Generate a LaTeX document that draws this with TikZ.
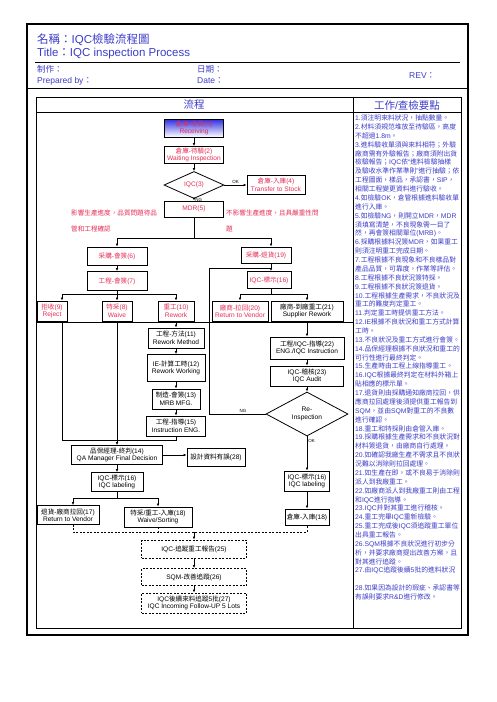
\documentclass[tikz,border=0pt]{standalone}
\usepackage{fontspec}
\setmainfont{Liberation Sans}
\newfontfamily\latinfont{Liberation Sans}
\newfontfamily\cjkfont{Noto Sans CJK TC}
\usetikzlibrary{arrows.meta,shapes.geometric}

% switch to the CJK font for Han characters and full-width punctuation
\newXeTeXintercharclass\CJKclass
\newcount\cjkcnt
\newcommand\setcjkrange[2]{\cjkcnt=#1\relax
  \loop\XeTeXcharclass\cjkcnt=\CJKclass\relax
  \ifnum\cjkcnt<#2\relax\advance\cjkcnt by 1\relax\repeat}
\setcjkrange{"3000}{"303F}
\setcjkrange{"4E00}{"9FFF}
\setcjkrange{"FF00}{"FFEF}
\XeTeXinterchartoks 0 \CJKclass = {\cjkfont}
\XeTeXinterchartoks 4095 \CJKclass = {\cjkfont}
\XeTeXinterchartoks \CJKclass 0 = {\latinfont}
\XeTeXinterchartoks \CJKclass 4095 = {\latinfont}
\XeTeXinterchartokenstate=1

\definecolor{hdrblue}{RGB}{60,60,200}
\definecolor{nodered}{RGB}{228,45,85}
\definecolor{rcvblue}{RGB}{45,45,225}

\begin{document}
\begin{tikzpicture}[x=1pt,y=-1pt,
  box/.style={draw, line width=0.8pt, inner sep=0.5pt, align=center, font=\fontsize{6.6}{7.6}\selectfont},
  redbox/.style={box, text=nodered},
  dbox/.style={box, dash pattern=on 2pt off 1.5pt},
  dia/.style={box, shape=diamond, inner sep=0pt},
  arr/.style={line width=0.8pt, -{Latex[length=3pt,width=2.6pt]}},
  ln/.style={line width=0.8pt},
  dln/.style={ln, dash pattern=on 2pt off 1.5pt},
  lab/.style={font=\fontsize{4.5}{5}\selectfont, inner sep=1pt},
  note/.style={font=\fontsize{6.8}{8.87}\selectfont, text=hdrblue, inner sep=0pt},
  hdr/.style={text=hdrblue, inner sep=0pt},
  remark/.style={text=nodered, align=left, inner sep=0pt, font=\fontsize{6.6}{16}\selectfont}]
  \useasboundingbox (0,0) rectangle (496,702);
  % frames
  \draw[line width=2pt] (27,24) rectangle (468,635);
  \draw[ln] (35,62) -- (460,62);
  \draw[line width=1pt] (27,88) -- (468,88);
  \draw[ln] (36,97) rectangle (461,628);
  \draw[ln] (36,112) -- (461,112);
  \draw[ln] (353,97) -- (353,628);
  \draw[ln] (36,322) -- (353,322);
  % header
  \node[hdr, anchor=west, font=\fontsize{11.5}{12}\selectfont] (ttlcn) at (37,40) {名稱：IQC檢驗流程圖};
  \node[hdr, anchor=west, font=\fontsize{11.5}{12}\selectfont] (ttlen) at (37,54) {Title：IQC inspection Process};
  \node[hdr, anchor=west, font=\fontsize{8.5}{9}\selectfont] (prepcn) at (37,69) {制作：};
  \node[hdr, anchor=west, font=\fontsize{8.5}{9}\selectfont] (prepen) at (37,81) {Prepared by：};
  \node[hdr, anchor=west, font=\fontsize{8.5}{9}\selectfont] (datecn) at (197,69) {日期：};
  \node[hdr, anchor=west, font=\fontsize{8.5}{9}\selectfont] (dateen) at (197,81) {Date：};
  \node[hdr, anchor=west, font=\fontsize{8.5}{9}\selectfont] (rev) at (409,76) {REV：};
  \node[hdr, font=\fontsize{10.5}{11}\selectfont] (hflow) at (194,105) {流程};
  \node[hdr, font=\fontsize{10.5}{11}\selectfont] (hnote) at (407,105) {工作/查檢要點};

  % flow
  \node[redbox, minimum width=59pt, minimum height=18pt, top color=rcvblue, bottom color=white] (rcv) at (194,128) {倉庫-收貨(1)\\Receiving};
  \node[redbox, minimum width=59pt, minimum height=17pt] (wait) at (194,155) {倉庫-待驗(2)\\Waiting Inspection};
  \node[dia, text=nodered, minimum width=60pt, minimum height=27pt] (iqc) at (194,185) {IQC(3)};
  \node[redbox, minimum width=58pt, minimum height=19pt] (stock) at (276,185) {倉庫-入庫(4)\\Transfer to Stock};
  \node[redbox, minimum width=59pt, minimum height=16pt] (mdr) at (194,209) {MDR(5)};
  \node[remark, anchor=west] (rmkl) at (71,221) {影響生產進度，品質問題待品\\管和工程確認};
  \node[remark, anchor=west] (rmkr) at (226,221) {不影響生產進度，且具嚴重性問\\題};
  \node[redbox, minimum width=60pt, minimum height=18pt] (pur6) at (117,256) {采購-會簽(6)};
  \node[redbox, minimum width=50pt, minimum height=16pt] (pur19) at (266,255) {采購-退貨(19)};
  \node[redbox, minimum width=60pt, minimum height=19pt] (eng7) at (117,281) {工程-會簽(7)};
  \node[redbox, minimum width=44pt, minimum height=17pt] (lab16a) at (269,280) {IQC-標示(16)};
  \node[redbox, minimum width=30pt, minimum height=20pt] (rej9) at (52,311) {拒收(9)\\Reject};
  \node[redbox, minimum width=30pt, minimum height=20pt] (wav8) at (117,311) {特采(8)\\Waive};
  \node[redbox, minimum width=36pt, minimum height=20pt] (rwk10) at (176,311) {重工(10)\\Rework};
  \node[redbox, minimum width=56pt, minimum height=20pt] (rtv20) at (240,311) {廠商-拉回(20)\\Return to Vendor};
  \node[box, minimum width=72pt, minimum height=20pt] (sup21) at (307,311) {廠商-到廠重工(21)\\Supplier Rework};
  \node[box, minimum width=56pt, minimum height=20pt] (mth11) at (176,338) {工程-方法(11)\\Rework Method};
  \node[box, minimum width=58pt, minimum height=27pt] (tim12) at (176,368) {IE-計算工時(12)\\Rework Working};
  \node[box, minimum width=48pt, minimum height=20pt] (mrb13) at (176,399) {制造-會簽(13)\\MRB MFG.};
  \node[box, minimum width=59pt, minimum height=20pt] (ins15) at (176,426) {工程-指導(15)\\Instruction ENG.};
  \node[box, minimum width=91pt, minimum height=19pt] (qa14) at (117,455) {品保經理-終判(14)\\QA Manager Final Decision};
  \node[box, minimum width=58pt, minimum height=18pt] (dat28) at (216,457) {設計資料有誤(28)};
  \node[box, minimum width=52pt, minimum height=19pt] (lab16b) at (117,482) {IQC-標示(16)\\IQC labeling};
  \node[box, minimum width=62pt, minimum height=19pt] (rtv17) at (68,515) {退貨-廠商拉回(17)\\Return to Vendor};
  \node[box, minimum width=68pt, minimum height=20pt] (wvs18) at (158,517) {特采/重工-入庫(18)\\Waive/Sorting};
  \node[box, minimum width=74pt, minimum height=22pt] (ins22) at (307,348) {工程/IQC-指導(22)\\ENG./IQC Instruction};
  \node[box, minimum width=73pt, minimum height=20pt] (aud23) at (307,376) {IQC-稽核(23)\\IQC Audit};
  \node[dia, minimum width=82pt, minimum height=44pt] (reins) at (307,414) {Re-\\Inspection};
  \node[box, minimum width=45pt, minimum height=20pt] (lab16c) at (307,481) {IQC-標示(16)\\IQC labeling};
  \node[box, minimum width=44pt, minimum height=16pt] (stk18) at (307,517) {倉庫-入庫(18)};
  \node[dbox, minimum width=105pt, minimum height=18pt] (trk25) at (194,549) {IQC-追蹤重工報告(25)};
  \node[dbox, minimum width=105pt, minimum height=17pt] (sqm26) at (194,577) {SQM-改善追蹤(26)};
  \node[dbox, minimum width=105pt, minimum height=20pt] (fol27) at (194,603) {IQC後續來料追蹤5批(27)\\IQC Incoming Follow-UP 5 Lots};

  % junctions
  \coordinate (j5) at (194,238);
  \coordinate (j6) at (117,238);
  \coordinate (j19) at (271,238);
  \coordinate (j7) at (117,294);
  \coordinate (j9) at (62,294);
  \coordinate (j10) at (176,294);
  \coordinate (j16) at (271,294);
  \coordinate (j20) at (240,294);
  \coordinate (j21) at (307,294);
  \coordinate (jl) at (209,268);
  \coordinate (jm) at (271,268);
  \coordinate (jq) at (62,440);
  \coordinate (jr) at (176,440);
  \coordinate (js) at (117,498);
  \coordinate (j17) at (73,498);
  \coordinate (j18) at (158,498);
  \coordinate (jd) at (73,532);
  \coordinate (jt) at (194,532);
  \coordinate (je) at (307,532);

  % connectors
  \draw[arr] (rcv) -- (wait);
  \draw[arr] (wait) -- (iqc);
  \draw[arr] (iqc) -- node[lab, above] (lok1) {OK} (stock);
  \draw[arr] (iqc) -- node[lab, right] (lng1) {NG} (mdr);
  \draw[ln] (mdr) -- (j5);
  \draw[ln] (j6) -- (j19);
  \draw[arr] (j6) -- (pur6);
  \draw[arr] (j19) -- (j19 |- pur19.north);
  \draw[arr] (pur6) -- (eng7);
  \draw[arr] (j19 |- pur19.south) -- (j19 |- lab16a.north);
  \draw[ln] (eng7) -- (j7);
  \draw[ln] (j9) -- (j10);
  \draw[arr] (j9) -- (j9 |- rej9.north);
  \draw[arr] (j7) -- (wav8);
  \draw[arr] (j10) -- (rwk10);
  \draw[ln] (j19 |- lab16a.south) -- (j16);
  \draw[ln] (j20) -- (j21);
  \draw[arr] (j20) -- (rtv20);
  \draw[arr] (j21) -- (sup21);
  \draw[arr] (rwk10) -- (mth11);
  \draw[arr] (mth11) -- (tim12);
  \draw[arr] (tim12) -- (mrb13);
  \draw[arr] (mrb13) -- (ins15);
  \draw[ln] (j9 |- rej9.south) -- (jq) -- (jr) -- (ins15);
  \draw[arr] (wav8) -- (qa14);
  \draw[arr] (qa14) -- (qa14 -| dat28.west);
  \draw[arr] (qa14) -- (lab16b);
  \draw[ln] (lab16b) -- (js);
  \draw[ln] (j17) -- (j18);
  \draw[arr] (j17) -- (j17 |- rtv17.north);
  \draw[arr] (j18) -- (wvs18);
  \draw[arr] (sup21) -- (ins22);
  \draw[arr] (ins22) -- (aud23);
  \draw[arr] (aud23) -- (reins);
  \draw[ln] (reins) -- node[lab, above, pos=0.4] (lng2) {NG} (jl |- reins.west) -- (jl) -- (jm);
  \draw[arr] (reins) -- node[lab, right, pos=0.12] (lok2) {OK} (lab16c);
  \draw[arr] (lab16c) -- (stk18);
  \draw[dln] (j17 |- rtv17.south) -- (jd) -- (je) -- (stk18);
  \draw[dln] (wvs18) -- (wvs18 |- jd);
  \draw[arr] (jt) -- (trk25);
  \draw[arr] (trk25) -- (sqm26);
  \draw[arr] (sqm26) -- (fol27);

  % notes column
  \foreach \txt [count=\i from 0] in {
    1.須注明來料狀況，抽點數量。,
    2.材料須規范堆放至待驗區，高度, 不超過1.8m。,
    3.進料驗收單須與來料相符；外驗, 廠商需有外驗報告；廠商須附出貨, 檢驗報告；IQC依“進料檢驗抽樣,
    及驗收水準作業準則”進行抽驗；依, 工程圖面，樣品，承認書，SIP，, 相關工程變更資料進行驗收。,
    4.如檢驗OK，倉管根據進料驗收單, 進行入庫。,
    5.如檢驗NG，則開立MDR，MDR, 須填寫清楚，不良現象需一目了, 然，再會簽相關單位(MRB)。,
    6.採購根據料況簽MDR，如果重工, 則須注明重工完成日期。,
    7.工程根據不良現象和不良樣品對, 產品品質，可靠度，作業等評估。,
    8.工程根據不良狀況簽特採。,
    9.工程根據不良狀況簽退貨。,
    10.工程根據生產需求，不良狀況及, 重工的難度判定重工。,
    11.判定重工時提供重工方法。,
    12.IE根據不良狀況和重工方式計算, 工時。,
    13.不良狀況及重工方式進行會簽。,
    14.品保經理根據不良狀況和重工的, 可行性進行最終判定。,
    15.生產時由工程上線指導重工。,
    16.IQC根據最終判定在材料外箱上, 貼相應的標示單。,
    17.退貨則由採購通知廠商拉回，供, 應商拉回處理後須提供重工報告到, SQM，並由SQM對重工的不良數, 進行確認。,
    18.重工和特採則由倉管入庫。,
    19.採購根據生產需求和不良狀況對, 材料簽退貨，由廠商自行處理。,
    20.如確認我廠生產不需求且不良狀, 況難以消除則拉回處理。,
    21.如生產在即，或不良易于消除則, 派人到我廠重工。,
    22.如廠商派人到我廠重工則由工程, 和IQC進行指導。,
    23.IQC并對其重工進行稽核。,
    24.重工完畢IQC重新檢驗。,
    25.重工完成後IQC須追蹤重工單位, 出具重工報告。,
    26.SQM根據不良狀況進行初步分, 析，并要求廠商提出改善方案，且, 對其進行追蹤。,
    27.由IQC追蹤後續5批的進料狀況, {},
    28.如果因為設計的瑕疵、承認書等, 有誤則要求R\&D進行修改。}
    \node[note, anchor=base west] (note\i) at (355,{120.6+8.87*\i}) {\txt};
\end{tikzpicture}
\end{document}
